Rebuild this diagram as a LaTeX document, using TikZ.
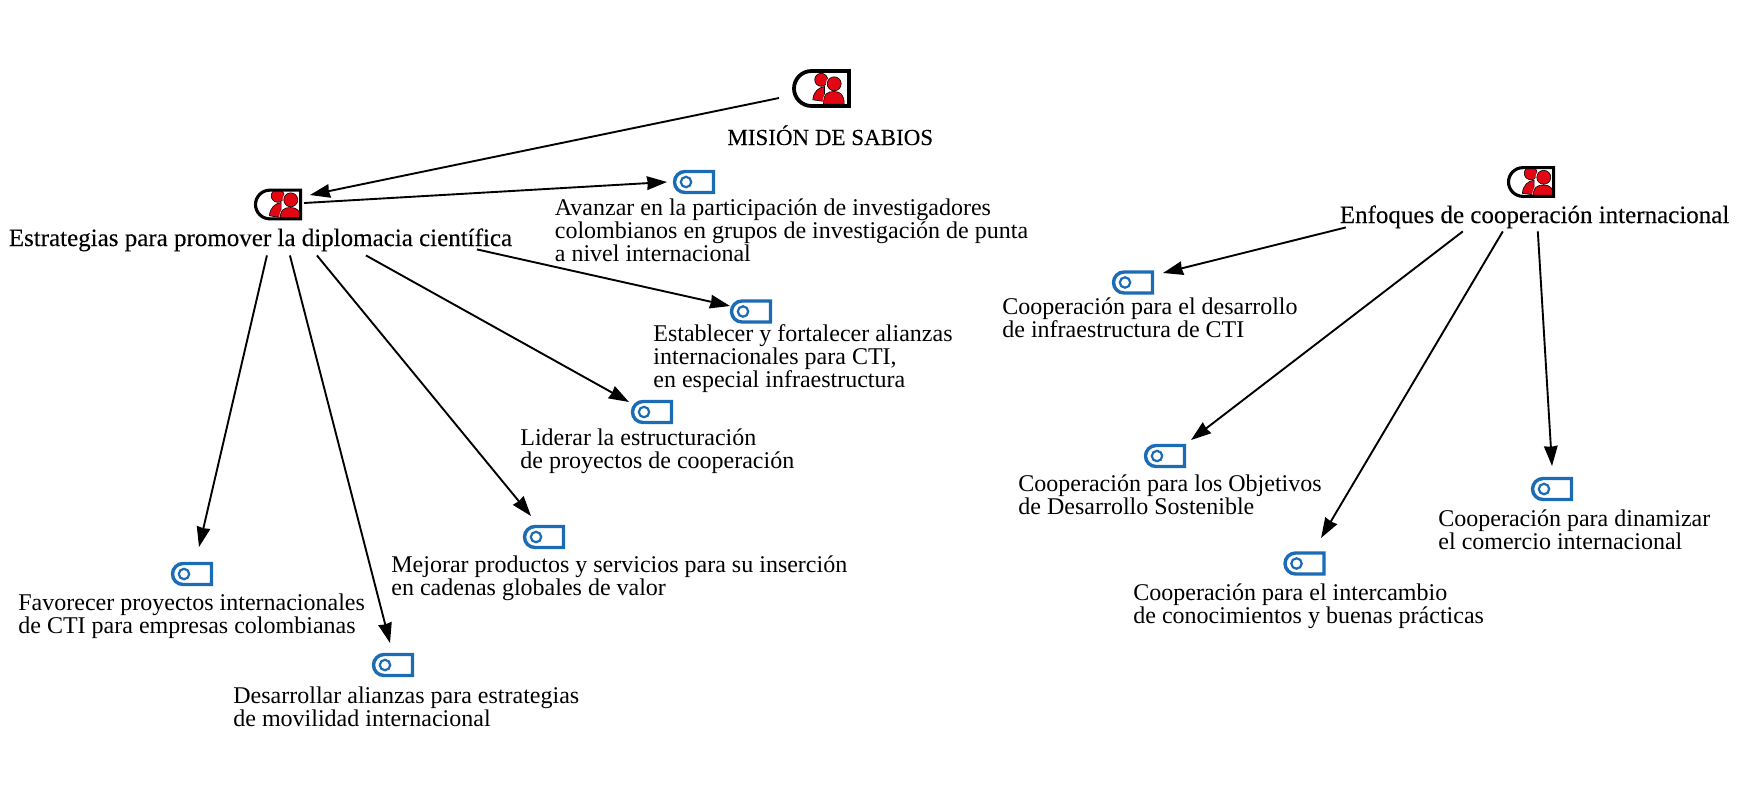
\documentclass[tikz,border=0pt]{standalone}
\usepackage{fontspec}
\setmainfont{Liberation Serif}
\newfontfamily\titulofont{Liberation Serif}[FakeBold=0.15]
\usetikzlibrary{arrows.meta,shapes.misc}
\definecolor{azulcodigo}{HTML}{1B6CB5}
\definecolor{rojogrupo}{HTML}{E30613}

% two people, drawn round the centre of the icon
\newcommand{\personas}[1]{%
    \begin{scope}[shift={(path picture bounding box.center)},scale=#1,
        line width=0.3pt]
        \filldraw[fill=rojogrupo] (-0.3,-8.7) circle (6.5);
        \filldraw[fill=rojogrupo] (-8.7,11.3) .. controls (-8,3) and (-3,-1) .. (3,-2)
            -- (3,13) -- cycle;
        \draw[white,line width=0.9pt] (12.7,-4.7) circle (7.3);
        \draw[white,line width=0.9pt] (2,15.7) .. controls (2,5) and (6,3) .. (12.5,3)
            .. controls (19,3) and (22.7,6) .. (22.7,15.7);
        \filldraw[fill=rojogrupo] (12.7,-4.7) circle (7);
        \filldraw[fill=rojogrupo] (2,15.7) .. controls (2,5) and (6,3) .. (12.5,3)
            .. controls (19,3) and (22.7,6) .. (22.7,15.7) -- cycle;
    \end{scope}}

\begin{document}
\begin{tikzpicture}[x=0.5pt,y=-0.5pt,
    % node attributes
    grupoicono/.style = {
        shape=rounded rectangle,
        rounded rectangle east arc=none,
        draw,
        anchor=west,
        outer sep=0pt,
        inner sep=0pt,
        line width=1.9pt*#1,
        minimum width=27.5pt*#1,
        minimum height=17.5pt*#1,
        path picture={\personas{#1}}},
    codigoicono/.style = {
        shape=rounded rectangle,
        rounded rectangle east arc=none,
        draw=azulcodigo,
        anchor=west,
        outer sep=0pt,
        inner sep=0pt,
        line width=1.7pt,
        minimum width=19.5pt,
        minimum height=10.5pt,
        path picture={\draw[azulcodigo,line width=1.1pt]
            ([shift={(11.5,0)}]path picture bounding box.west) circle (5.2);}},
    etiqueta/.style = {
        anchor=base west,
        align=left,
        inner sep=0pt,
        font=\fontsize{12}{11.5}\selectfont},
    titulo/.style = {
        anchor=base west,
        inner sep=0pt,
        text depth=#1,
        font=\fontsize{12.5}{11.5}\selectfont\titulofont},
    enlace/.style = {
        -{Stealth[length=10pt,width=6.8pt,inset=0.4pt]},
        line width=0.95pt}]
    \useasboundingbox (0,0) rectangle (1754,800);

    % groups
    \node[grupoicono=1] (misionicono) at (794,88.5) {};
    \node[titulo=0pt,font=\fontsize{11.5}{11.5}\selectfont\titulofont] (mision) at (727,145) {MISIÓN DE SABIOS};
    \node[grupoicono=0.82] (estrategiasicono) at (255.5,204.5) {};
    \node[titulo=4.5pt] (estrategias) at (8.4,246) {Estrategias para promover la diplomacia científica};
    \node[grupoicono=0.82] (enfoquesicono) at (1508.5,182) {};
    \node[titulo=4pt] (enfoques) at (1339.4,223) {Enfoques de cooperación internacional};

    % codes of the left side
    \node[codigoicono] (avanzaricono) at (674.5,182) {};
    \node[etiqueta] (avanzar) at (554.5,261) {Avanzar en la participación de investigadores\\
        colombianos en grupos de investigación de punta\\
        a nivel internacional};
    \node[codigoicono] (establecericono) at (731.5,311.5) {};
    \node[etiqueta] (establecer) at (653,387) {Establecer y fortalecer alianzas\\
        internacionales para CTI,\\
        en especial infraestructura};
    \node[codigoicono] (lideraricono) at (632.5,412) {};
    \node[etiqueta] (liderar) at (520,468) {Liderar la estructuración\\
        de proyectos de cooperación};
    \node[codigoicono] (mejoraricono) at (524.5,537) {};
    \node[etiqueta] (mejorar) at (391,595) {Mejorar productos y servicios para su inserción\\
        en cadenas globales de valor};
    \node[codigoicono] (favorecericono) at (172.5,574) {};
    \node[etiqueta] (favorecer) at (18,633) {Favorecer proyectos internacionales\\
        de CTI para empresas colombianas};
    \node[codigoicono] (desarrollaricono) at (373.5,665) {};
    \node[etiqueta] (desarrollar) at (233,726) {Desarrollar alianzas para estrategias\\
        de movilidad internacional};

    % codes of the right side
    \node[codigoicono] (infraicono) at (1113.5,282.5) {};
    \node[etiqueta] (infra) at (1002,337) {Cooperación para el desarrollo\\
        de infraestructura de CTI};
    \node[codigoicono] (odsicono) at (1145.5,456) {};
    \node[etiqueta] (ods) at (1018,514) {Cooperación para los Objetivos\\
        de Desarrollo Sostenible};
    \node[codigoicono] (intercambioicono) at (1285,563.5) {};
    \node[etiqueta] (intercambio) at (1133,623) {Cooperación para el intercambio\\
        de conocimientos y buenas prácticas};
    \node[codigoicono] (dinamizaricono) at (1532.5,489) {};
    \node[etiqueta] (dinamizar) at (1438,549) {Cooperación para dinamizar\\
        el comercio internacional};

    % connectors
    \draw[enlace] ([shift={(-15,9.5)}]misionicono.west) -- ([shift={(54.5,-9.5)}]estrategiasicono.west);
    \draw[enlace] ([shift={(48.5,-1.5)}]estrategiasicono.west) -- ([shift={(-7.5,0)}]avanzaricono.west);
    \draw[enlace] ([shift={(216.5,-6)}]estrategias.south) -- ([shift={(-1.5,-5.5)}]establecericono.west);
    \draw[enlace] ([shift={(105.5,0)}]estrategias.south) -- ([shift={(-3.5,-10)}]lideraricono.west);
    \draw[enlace] ([shift={(56.5,0)}]estrategias.south) -- ([shift={(6.5,-21)}]mejoraricono.west);
    \draw[enlace] ([shift={(29.5,0)}]estrategias.south) -- ([shift={(16.5,-22)}]desarrollaricono.west);
    \draw[enlace] ([shift={(6.5,0)}]estrategias.south) -- ([shift={(26.5,-27)}]favorecericono.west);
    \draw[enlace] ([shift={(-188.7,-4)}]enfoques.south) -- ([shift={(49.5,-9.5)}]infraicono.west);
    \draw[enlace] ([shift={(-71.7,0)}]enfoques.south) -- ([shift={(45.5,-16)}]odsicono.west);
    \draw[enlace] ([shift={(-31.7,0)}]enfoques.south) -- ([shift={(36,-25.5)}]intercambioicono.west);
    \draw[enlace] ([shift={(3.3,0)}]enfoques.south) -- ([shift={(19.5,-23)}]dinamizaricono.west);
\end{tikzpicture}
\end{document}
